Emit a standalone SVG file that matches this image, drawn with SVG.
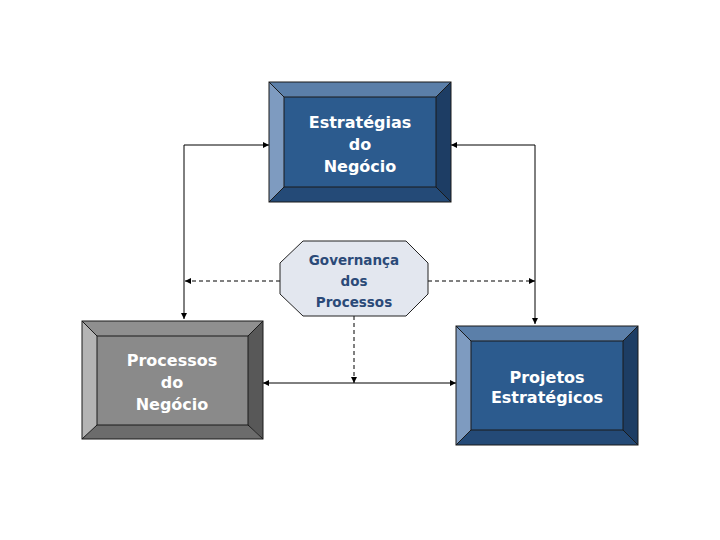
<svg xmlns="http://www.w3.org/2000/svg" width="720" height="540" viewBox="0 0 720 540">
<defs>
<marker id="ah" viewBox="0 0 10 10" refX="10" refY="5" markerWidth="7" markerHeight="6" markerUnits="userSpaceOnUse" orient="auto-start-reverse">
<path d="M0,0 L10,5 L0,10 Z" fill="#000"/>
</marker>
</defs>
<style>
.edge{stroke:#000;stroke-width:1;fill:none}
.dash{stroke-dasharray:4,3}
.bt{font-family:"DejaVu Sans",Verdana,sans-serif;font-weight:bold;font-size:16px;fill:#fff;text-anchor:middle}
.gt{font-family:"DejaVu Sans",Verdana,sans-serif;font-weight:bold;font-size:13.5px;fill:#2b4a78;text-anchor:middle}
.ol{stroke:#1a1a1a;stroke-width:1;fill:none}
</style>
<rect width="720" height="540" fill="#fff"/>
<g id="connectors">
<path class="edge" d="M184,319 L184,145 L269,145" marker-start="url(#ah)" marker-end="url(#ah)"/>
<path class="edge" d="M451,145 L535,145 L535,324" marker-start="url(#ah)" marker-end="url(#ah)"/>
<path class="edge dash" d="M280,281 L185,281" marker-end="url(#ah)"/>
<path class="edge dash" d="M428,281 L535,281" marker-end="url(#ah)"/>
<path class="edge" d="M263,383 L456,383" marker-start="url(#ah)" marker-end="url(#ah)"/>
<path class="edge dash" d="M354,316 L354,383" marker-end="url(#ah)"/>
</g>
<g id="estrategias">
<polygon points="269,82 451,82 436,97 284,97" fill="#5b7fa9"/>
<polygon points="269,82 284,97 284,187 269,202" fill="#7e9bc0"/>
<polygon points="451,82 451,202 436,187 436,97" fill="#1d3d64"/>
<polygon points="269,202 284,187 436,187 451,202" fill="#244a77"/>
<rect x="284" y="97" width="152" height="90" fill="#2c5b8e"/>
<rect class="ol" x="269" y="82" width="182" height="120"/>
<path class="ol" d="M269,82 L284,97 M451,82 L436,97 M269,202 L284,187 M451,202 L436,187"/>
<rect class="ol" x="284" y="97" width="152" height="90"/>
<text class="bt" x="360" y="128">Estratégias</text>
<text class="bt" x="360" y="150">do</text>
<text class="bt" x="360" y="172">Negócio</text>
</g>
<g id="processos">
<polygon points="82,321 263,321 248,336 97,336" fill="#8f8f8f"/>
<polygon points="82,321 97,336 97,425 82,439" fill="#b4b4b4"/>
<polygon points="263,321 263,439 248,425 248,336" fill="#585858"/>
<polygon points="82,439 97,425 248,425 263,439" fill="#6c6c6c"/>
<rect x="97" y="336" width="151" height="89" fill="#8a8a8a"/>
<rect class="ol" x="82" y="321" width="181" height="118"/>
<path class="ol" d="M82,321 L97,336 M263,321 L248,336 M82,439 L97,425 M263,439 L248,425"/>
<rect class="ol" x="97" y="336" width="151" height="89"/>
<text class="bt" x="172" y="366">Processos</text>
<text class="bt" x="172" y="388">do</text>
<text class="bt" x="172" y="410">Negócio</text>
</g>
<g id="projetos">
<polygon points="456,326 638,326 623,341 471,341" fill="#5b7fa9"/>
<polygon points="456,326 471,341 471,430 456,445" fill="#7e9bc0"/>
<polygon points="638,326 638,445 623,430 623,341" fill="#1d3d64"/>
<polygon points="456,445 471,430 623,430 638,445" fill="#244a77"/>
<rect x="471" y="341" width="152" height="89" fill="#2c5b8e"/>
<rect class="ol" x="456" y="326" width="182" height="119"/>
<path class="ol" d="M456,326 L471,341 M638,326 L623,341 M456,445 L471,430 M638,445 L623,430"/>
<rect class="ol" x="471" y="341" width="152" height="89"/>
<text class="bt" x="547" y="383">Projetos</text>
<text class="bt" x="547" y="403">Estratégicos</text>
</g>
<g id="governanca">
<polygon points="303,241 406,241 428,263 428,294 406,316 303,316 280,294 280,263" fill="#e3e7ef" stroke="#222" stroke-width="1"/>
<text class="gt" x="354" y="265">Governança</text>
<text class="gt" x="354" y="286">dos</text>
<text class="gt" x="354" y="307">Processos</text>
</g>
</svg>
